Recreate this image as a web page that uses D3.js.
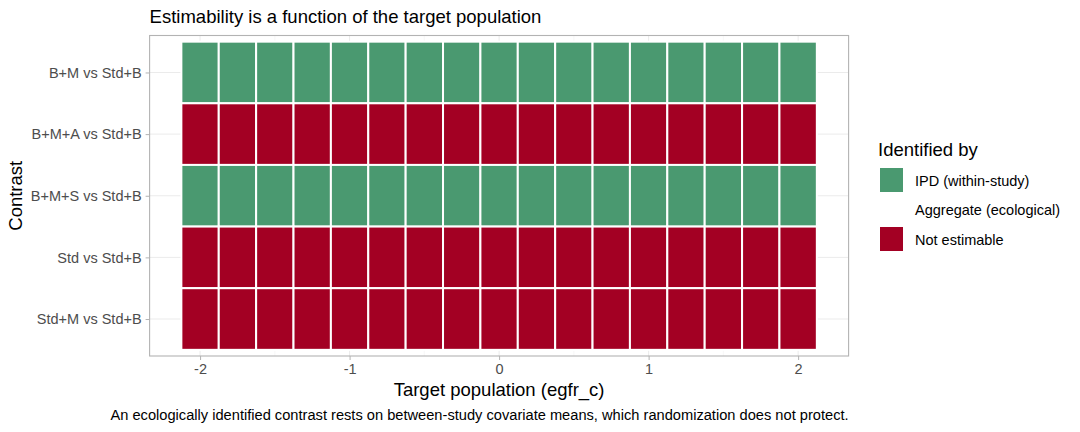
<!DOCTYPE html>
<html>
<head>
<meta charset="utf-8">
<script src="https://cdn.jsdelivr.net/npm/d3@7"></script>
<style>
  body { margin: 0; background: #fff; }
  text { font-family: "Liberation Sans", Arial, sans-serif; }
</style>
</head>
<body>
<svg id="chart"></svg>
<script>
// Data
const contrasts = ["B+M vs Std+B", "B+M+A vs Std+B", "B+M+S vs Std+B", "Std vs Std+B", "Std+M vs Std+B"];
const egfrValues = [-2, -1.75, -1.5, -1.25, -1, -0.75, -0.5, -0.25, 0, 0.25, 0.5, 0.75, 1, 1.25, 1.5, 1.75, 2];
const statusBM   = ["IPD","IPD","IPD","IPD","IPD","IPD","IPD","IPD","IPD","IPD","IPD","IPD","IPD","IPD","IPD","IPD","IPD"];
const statusBMA  = ["NE","NE","NE","NE","NE","NE","NE","NE","NE","NE","NE","NE","NE","NE","NE","NE","NE"];
const statusBMS  = ["IPD","IPD","IPD","IPD","IPD","IPD","IPD","IPD","IPD","IPD","IPD","IPD","IPD","IPD","IPD","IPD","IPD"];
const statusStd  = ["NE","NE","NE","NE","NE","NE","NE","NE","NE","NE","NE","NE","NE","NE","NE","NE","NE"];
const statusStdM = ["NE","NE","NE","NE","NE","NE","NE","NE","NE","NE","NE","NE","NE","NE","NE","NE","NE"];
const statusRows = [statusBM, statusBMA, statusBMS, statusStd, statusStdM];
const xTicks = [-2, -1, 0, 1, 2];
const xMinor = [-1.5, -0.5, 0.5, 1.5];
const legendKeys = ["IPD", "AGG", "NE"];
const legendLabels = ["IPD (within-study)", "Aggregate (ecological)", "Not estimable"];

// Constant values
const width = 1080;
const height = 432;
const panel = { left: 149.6, right: 848.6, top: 35.5, bottom: 356 };
const tileWidth = 0.25;
const colors = { IPD: "#4A9970", AGG: "none", NE: "#A30023" };

const svg = d3.select("#chart").attr("width", width).attr("height", height);

// Scales (tile extent +/- 5% expansion, discrete y with 0.6 padding)
const xSpan = (egfrValues[egfrValues.length - 1] - egfrValues[0]) + tileWidth;
const xLo = egfrValues[0] - tileWidth / 2 - xSpan * 0.05;
const xHi = egfrValues[egfrValues.length - 1] + tileWidth / 2 + xSpan * 0.05;
const xScale = d3.scaleLinear().domain([xLo, xHi]).range([panel.left, panel.right]);
const yScale = d3.scaleLinear().domain([0.4, contrasts.length + 0.6]).range([panel.top, panel.bottom]);

// Grid
const grid = svg.append("g");
grid.selectAll(".minor").data(xMinor).enter().append("line")
  .attr("x1", d => xScale(d)).attr("x2", d => xScale(d))
  .attr("y1", panel.top).attr("y2", panel.bottom)
  .attr("stroke", "#f3f3f3").attr("stroke-width", 0.6);
grid.selectAll(".major").data(xTicks).enter().append("line")
  .attr("x1", d => xScale(d)).attr("x2", d => xScale(d))
  .attr("y1", panel.top).attr("y2", panel.bottom)
  .attr("stroke", "#ebebeb").attr("stroke-width", 1);
grid.selectAll(".hmajor").data(contrasts).enter().append("line")
  .attr("x1", panel.left).attr("x2", panel.right)
  .attr("y1", (d, i) => yScale(i + 1)).attr("y2", (d, i) => yScale(i + 1))
  .attr("stroke", "#ebebeb").attr("stroke-width", 1);

// Tiles
const tiles = [];
statusRows.forEach((row, i) => row.forEach((s, j) => tiles.push({ row: i + 1, x: egfrValues[j], s })));
svg.append("g").selectAll("rect").data(tiles).enter().append("rect")
  .attr("x", d => xScale(d.x - tileWidth / 2))
  .attr("y", d => yScale(d.row - 0.5))
  .attr("width", xScale(tileWidth) - xScale(0))
  .attr("height", yScale(1) - yScale(0))
  .attr("fill", d => colors[d.s])
  .attr("stroke", "#fff")
  .attr("stroke-width", 2);

// Panel border
svg.append("rect")
  .attr("x", panel.left).attr("y", panel.top)
  .attr("width", panel.right - panel.left).attr("height", panel.bottom - panel.top)
  .attr("fill", "none").attr("stroke", "#b3b3b3").attr("stroke-width", 1.1);

// Axes
const xAxis = svg.append("g").attr("transform", `translate(0, ${panel.bottom})`)
  .call(d3.axisBottom(xScale).tickValues(xTicks).tickSize(4).tickPadding(4).tickFormat(d => String(d)));
xAxis.select(".domain").remove();
xAxis.selectAll("line").attr("stroke", "#b3b3b3");
xAxis.selectAll("text").attr("fill", "#4d4d4d").style("font-size", "14.5px");

const yAxis = svg.append("g").attr("transform", `translate(${panel.left}, 0)`)
  .call(d3.axisLeft(yScale).tickValues(contrasts.map((c, i) => i + 1)).tickSize(4).tickPadding(4)
    .tickFormat(d => contrasts[d - 1]));
yAxis.select(".domain").remove();
yAxis.selectAll("line").attr("stroke", "#b3b3b3");
yAxis.selectAll("text").attr("fill", "#4d4d4d").style("font-size", "14.5px");

// Titles
svg.append("text").attr("x", panel.left).attr("y", 23)
  .style("font-size", "18.5px").attr("fill", "#000")
  .text("Estimability is a function of the target population");
svg.append("text").attr("x", (panel.left + panel.right) / 2).attr("y", 396)
  .attr("text-anchor", "middle").style("font-size", "18.5px").attr("fill", "#000")
  .text("Target population (egfr_c)");
svg.append("text").attr("transform", `translate(22, ${(panel.top + panel.bottom) / 2}) rotate(-90)`)
  .attr("text-anchor", "middle").style("font-size", "18.5px").attr("fill", "#000")
  .text("Contrast");
svg.append("text").attr("x", panel.right).attr("y", 420)
  .attr("text-anchor", "end").style("font-size", "14.65px").attr("fill", "#000")
  .text("An ecologically identified contrast rests on between-study covariate means, which randomization does not protect.");

// Legend
const legend = svg.append("g").attr("transform", "translate(878, 0)");
legend.append("text").attr("x", 0).attr("y", 156)
  .style("font-size", "18.5px").attr("fill", "#000").text("Identified by");
const item = legend.selectAll(".item").data(legendKeys).enter().append("g")
  .attr("transform", (d, i) => `translate(0, ${168 + i * 29.5})`);
item.append("rect").attr("x", 2).attr("y", 0).attr("width", 23).attr("height", 24)
  .attr("fill", d => colors[d]);
item.append("text").attr("x", 37).attr("y", 17.5)
  .style("font-size", "14.5px").attr("fill", "#000")
  .text((d, i) => legendLabels[i]);
</script>
</body>
</html>
